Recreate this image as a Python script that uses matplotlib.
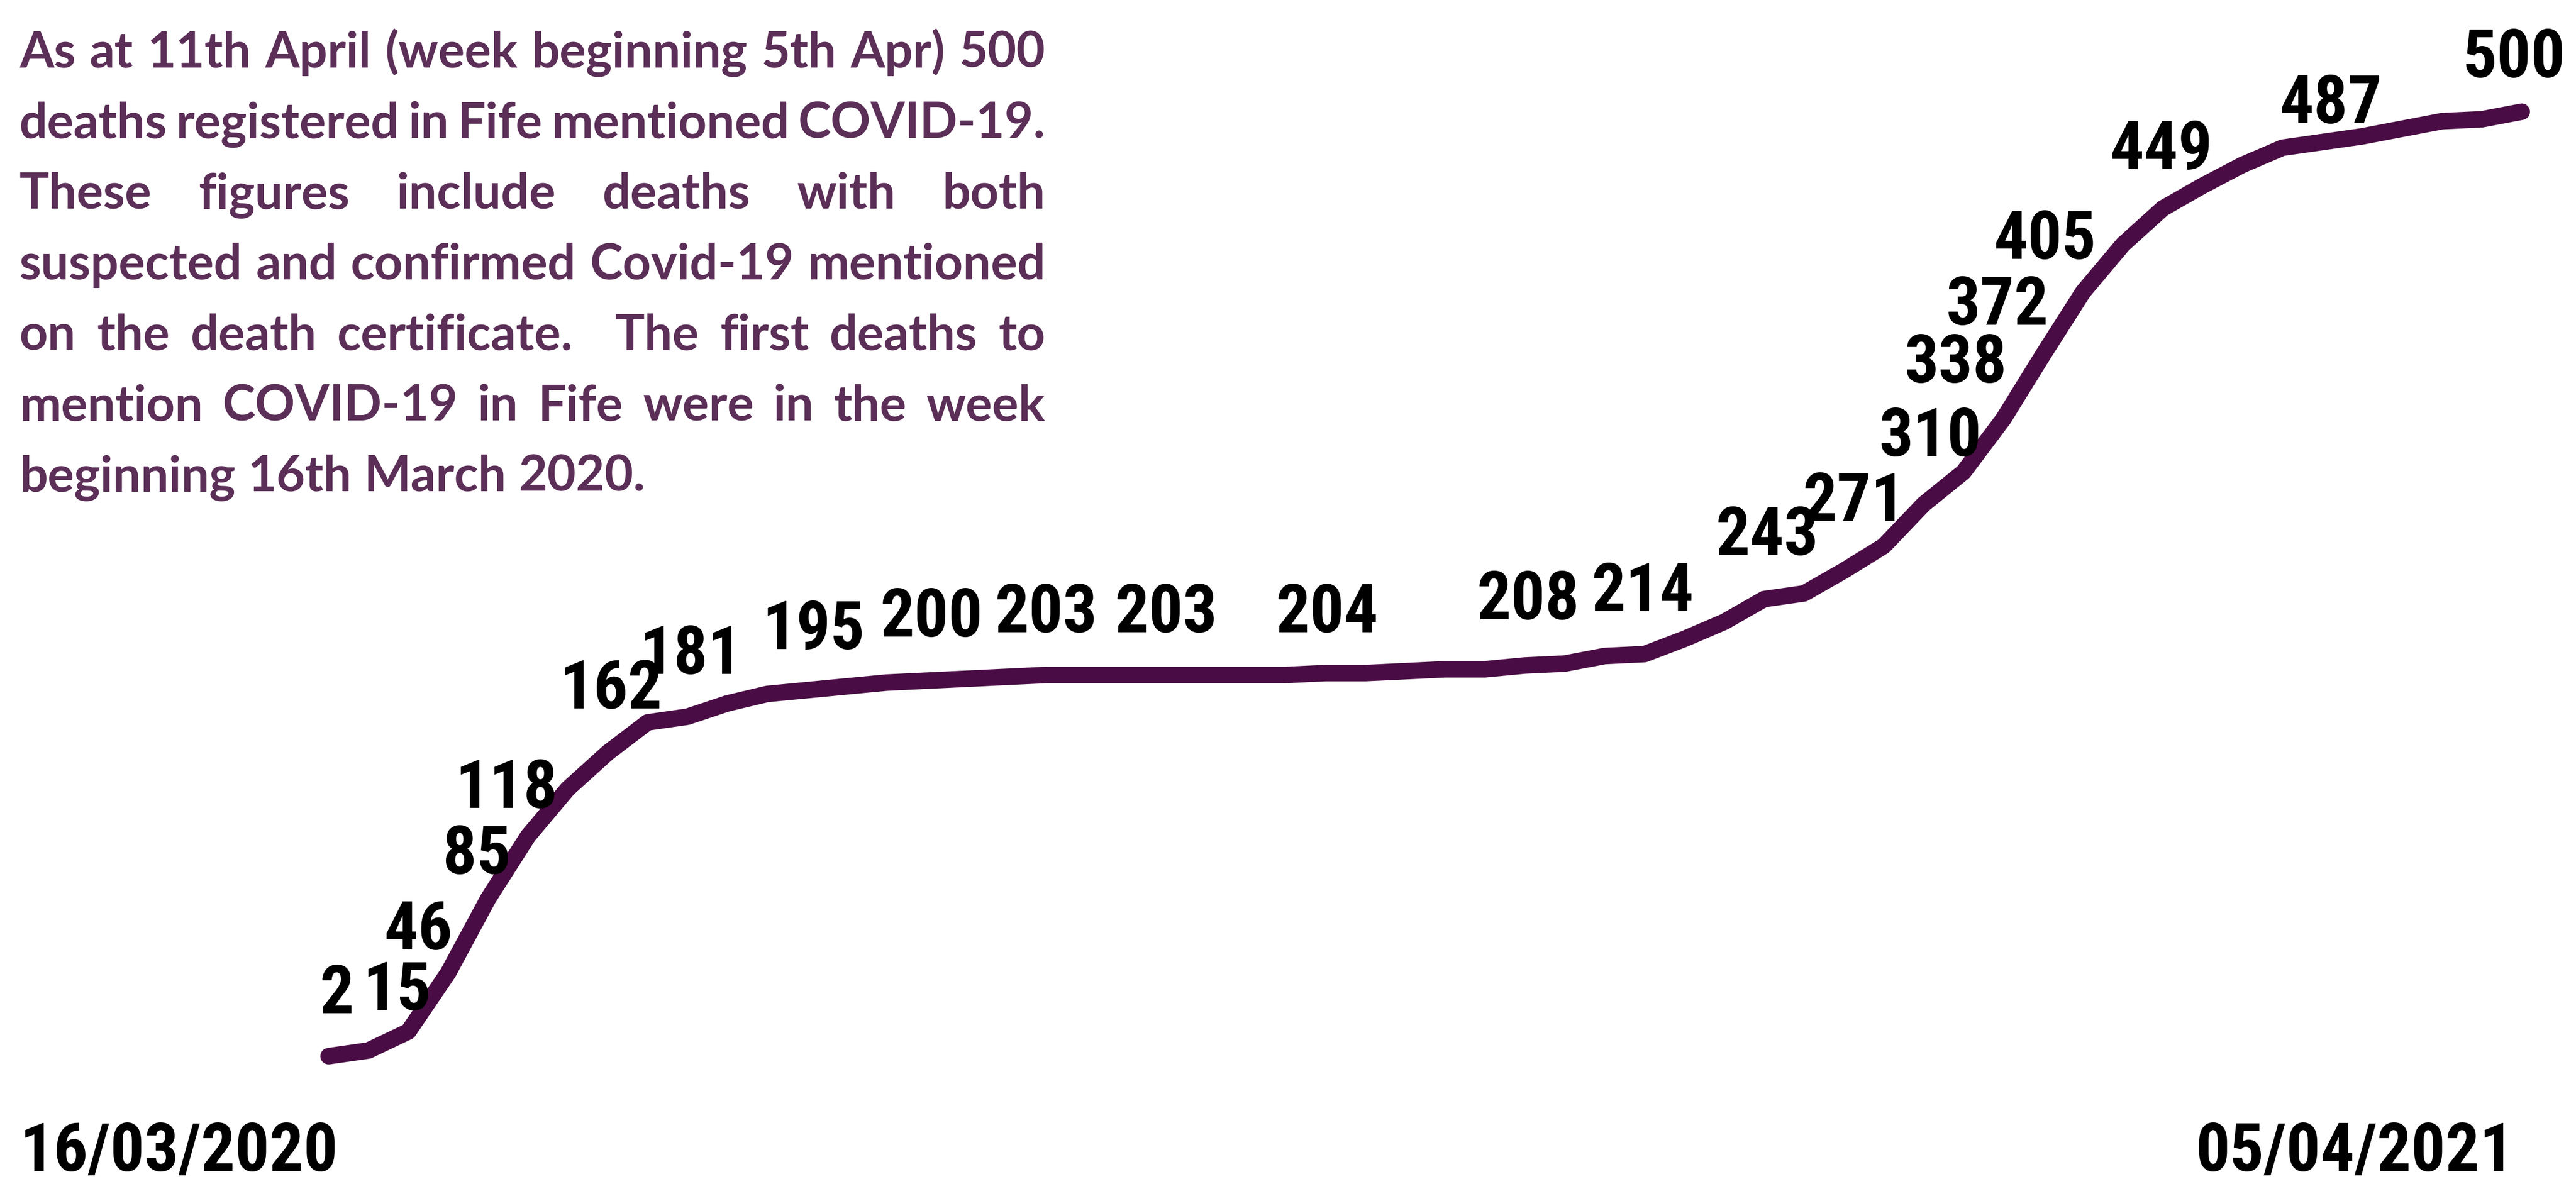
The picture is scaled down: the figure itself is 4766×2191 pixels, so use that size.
import os
import matplotlib
matplotlib.use("Agg")
import matplotlib.pyplot as plt
from matplotlib import font_manager

# cumulative deaths mentioning COVID-19 in Fife, by week (w/b 16/03/2020 .. 05/04/2021)
weeks = list(range(56))
deaths = [2, 5, 15, 46, 85, 118, 143, 162, 178, 181,
          188, 193, 195, 197, 199, 200, 201, 202, 203, 203,
          203, 203, 203, 203, 203, 204, 204, 205, 206, 206,
          208, 209, 213, 214, 222, 231, 243, 246, 258, 271,
          293, 310, 338, 372, 405, 430, 449, 461, 472, 481,
          484, 487, 491, 495, 496, 500]

# weeks that carry a value label
labelled_weeks = [0, 2, 3, 4, 5, 7, 9, 12, 15, 18, 21, 25, 30, 33,
                  36, 39, 41, 42, 43, 44, 46, 51, 55]

start_label = "16/03/2020"
end_label = "05/04/2021"

note_lines = [
    "As at 11th April (week beginning 5th Apr) 500",
    "deaths registered in Fife mentioned COVID-19.",
    "These figures include deaths with both",
    "suspected and confirmed Covid-19 mentioned",
    "on the death certificate.  The first deaths to",
    "mention COVID-19 in Fife were in the week",
    "beginning 16th March 2020.",
]

# label placement relative to its point (pixels, baseline anchored)
label_offsets = [(15, 79), (-21, 40), (-55, 43), (-21, 46), (-40, 52),
                 (6, 82), (6, 79), (12, 76), (9, 82), (0, 79), (0, 79),
                 (3, 76), (6, 85), (-3, 79), (6, 82), (-55, 46), (-61, 30),
                 (-88, 67), (-85, 55), (-70, 61), (-3, 73), (-58, 24),
                 (-15, 64)]

LINE = "#4a0c44"
TEXT = "#5b2f57"
W, H = 4766, 2191


def find_narrow_bold():
    # the numbers are set in a tall, narrow bold face; use one if installed
    prefs = ["liberationsansnarrow-bold.", "notosans-condensedbold.",
             "robotocondensed-bold.", "opensans-condensedbold.",
             "notosans-extracondensedbold.", "opensanscondensed-bold."]
    files = {os.path.basename(f.fname).lower(): f.fname
             for f in font_manager.fontManager.ttflist}
    for p in prefs:
        for name, path in files.items():
            if name.startswith(p):
                return path
    return None


narrow_path = find_narrow_bold()
if narrow_path:
    num_font = dict(fontproperties=font_manager.FontProperties(fname=narrow_path, size=90))
else:
    num_font = dict(fontsize=80, fontweight="bold", family=["Lato", "DejaVu Sans"])

fig = plt.figure(figsize=(W / 100, H / 100), dpi=100)
fig.patch.set_facecolor("white")
ax = fig.add_axes([0, 0, 1, 1])
ax.set_xlim(-8.24, 56.36)
ax.set_ylim(-65.4, 558.9)
ax.axis("off")

ax.plot(weeks, deaths, color=LINE, lw=22,
        solid_capstyle="round", solid_joinstyle="round")

for w, (dx, dy) in zip(labelled_weeks, label_offsets):
    ax.annotate(str(deaths[w]), (w, deaths[w]), xytext=(dx, dy),
                textcoords="offset pixels", ha="center", va="baseline",
                color="black", **num_font)

fig.text(36 / W, 1 - 2167 / H, start_label, ha="left", va="baseline",
         color="black", **num_font)
fig.text(4651 / W, 1 - 2167 / H, end_label, ha="right", va="baseline",
         color="black", **num_font)

# justified note, top left
renderer = fig.canvas.get_renderer()
left, right = 36, 1934
note_size = 66
for i, line in enumerate(note_lines):
    y = 1 - (124.6 + 130.7 * i) / H
    words = line.split(" ")
    texts = [fig.text(0, y, wd, ha="left", va="baseline", fontsize=note_size,
                      fontweight="bold", family=["Lato", "DejaVu Sans"], color=TEXT)
             for wd in words]
    widths = [t.get_window_extent(renderer).width if wd else 0
              for t, wd in zip(texts, words)]
    if i < len(note_lines) - 1:
        gap = (right - left - sum(widths)) / (len(words) - 1)
    else:
        gap = 0.25 * note_size * 100 / 72
    x = left
    for t, wdt in zip(texts, widths):
        t.set_x(x / W)
        x += wdt + gap

fig.savefig("out.png", dpi=100, facecolor="white")
